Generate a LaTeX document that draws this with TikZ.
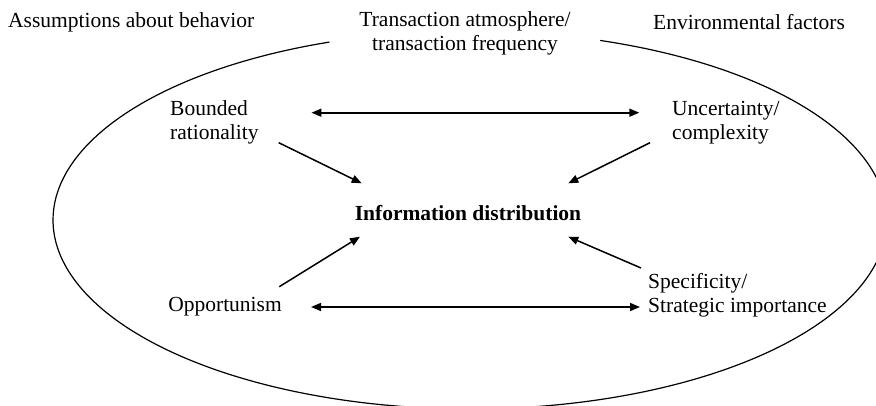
\documentclass[tikz,border=0pt]{standalone}
\usepackage{fontspec}
\setmainfont{Liberation Serif}
\usetikzlibrary{arrows.meta,calc}
\begin{document}
\begin{tikzpicture}[x=1pt,y=-1pt,
  lbl/.style={inner sep=0pt, font=\fontsize{21.5}{24.5}\selectfont},
  tip/.style={-{Triangle[length=10pt,width=8pt]}, line width=1.5pt},
  dbl/.style={{Triangle[length=10pt,width=8pt]}-{Triangle[length=10pt,width=8pt]}, line width=1.6pt},
  rim/.style={line width=1.2pt}
]
\useasboundingbox (0,0) rectangle (876,405);
\clip (0,0) rectangle (876,405);

% the enclosing oval, open at the top behind the heading
\draw[rim] plot[domain=-71.8:250.3, samples=240, smooth, variable=\t]
  ({470+417*cos(\t)},{220+189*sin(\t)});

% labels
\node[lbl, anchor=west] (assume) at (8,22) {Assumptions about behavior};
\node[lbl, align=center] (atmos) at (465,33.5) {Transaction atmosphere/\\transaction frequency};
\node[lbl, anchor=west] (env) at (653,22) {Environmental factors};
\node[lbl, anchor=west, align=left] (bounded) at (170,122.5) {Bounded\\rationality};
\node[lbl, anchor=west, align=left] (uncert) at (672,122.5) {Uncertainty/\\complexity};
\node[lbl, font=\fontsize{21.5}{24.5}\selectfont\bfseries] (info) at (468,213) {Information distribution};
\node[lbl, anchor=east] (opp) at (282,307) {Opportunism};
\node[lbl, anchor=west, align=left] (spec) at (648,295) {Specificity/\\Strategic importance};

% connectors
\draw[dbl] ($(bounded.east)+(52.7,-9.8)$) -- ($(uncert.west)+(-32.7,-9.8)$);
\draw[tip] ($(bounded.east)+(20,20.2)$) -- ($(info.center)+(-106.3,-29.7)$);
\draw[tip] ($(uncert.west)+(-22,20.2)$) -- ($(info.center)+(100.3,-29.7)$);
\draw[tip] ($(opp.east)+(-2.7,-20.3)$) -- ($(info.center)+(-108,23.7)$);
\draw[tip] ($(spec.west)+(-7,-27)$) -- ($(info.center)+(100.3,23.7)$);
\draw[dbl] ($(opp.east)+(29,0)$) -- ($(spec.west)+(-8,12)$);
\end{tikzpicture}
\end{document}
